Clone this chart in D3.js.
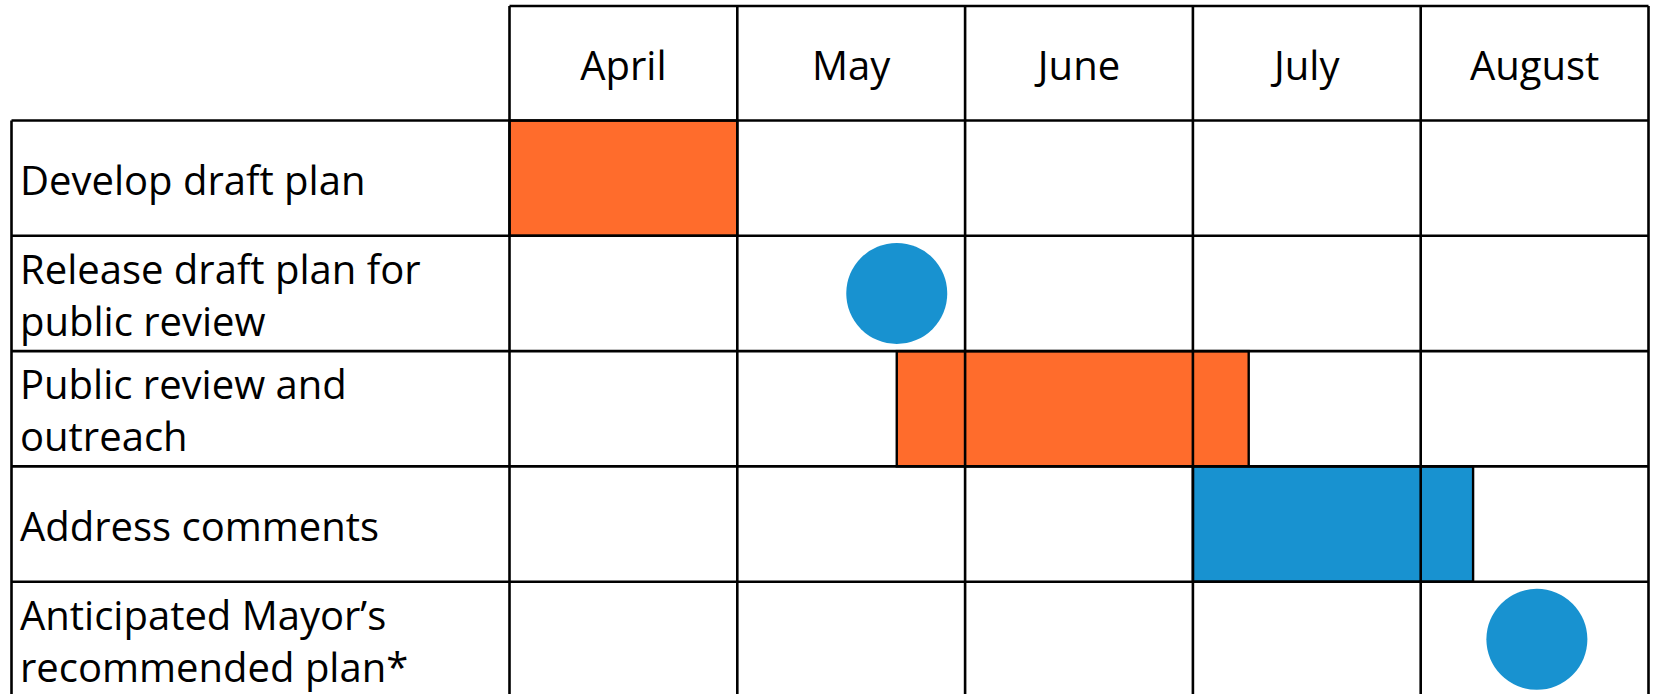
<!DOCTYPE html>
<html>
<head>
<meta charset="utf-8">
<script src="https://d3js.org/d3.v7.min.js"></script>
<style>
  body { margin: 0; background: #fff; }
  text { font-family: "Open Sans", "Noto Sans", sans-serif; fill: #000; }
</style>
</head>
<body>
<div class="timeline-container"></div>
<script>
// months across the top, tasks down the left side
const months = ["April", "May", "June", "July", "August"];
const tasks = [
  ["Develop draft plan"],
  ["Release draft plan for", "public review"],
  ["Public review and", "outreach"],
  ["Address comments"],
  ["Anticipated Mayor\u2019s", "recommended plan*"]
];

// bars: row index, start / end counted in months from the 1st of April
const barTask = [0, 2, 3];
const barStart = [0, 1.70, 3.0];
const barEnd = [1, 3.245, 4.23];
const barColor = ["#ff6c2c", "#ff6c2c", "#1892d0"];

// milestones drawn as circles
const dotTask = [1, 4];
const dotAt = [1.70, 4.51];
const dotColor = ["#1892d0", "#1892d0"];

const width = 1654, height = 694;
const gridLeft = 11.5, gridTop = 6, headerBottom = 120.5, rowHeight = 115.3;
const fontSize = 40, lineGap = 52;

const svg = d3.select(".timeline-container")
  .append("svg")
  .attr("width", width)
  .attr("height", height);

const xScale = d3.scaleLinear()
  .domain([0, months.length])
  .range([509.5, 1648.5]);

const yScale = d3.scaleBand()
  .domain(d3.range(tasks.length))
  .range([headerBottom, headerBottom + rowHeight * tasks.length]);

const bars = barTask.map((t, i) => ({task: t, start: barStart[i], end: barEnd[i], color: barColor[i]}));
const dots = dotTask.map((t, i) => ({task: t, at: dotAt[i], color: dotColor[i]}));

// bars first, the grid goes on top of them
svg.append("g").selectAll("rect")
  .data(bars)
  .join("rect")
  .attr("x", d => xScale(d.start))
  .attr("y", d => yScale(d.task))
  .attr("width", d => xScale(d.end) - xScale(d.start))
  .attr("height", yScale.bandwidth())
  .attr("fill", d => d.color)
  .attr("stroke", "#000")
  .attr("stroke-width", 2.4);

svg.append("g").selectAll("circle")
  .data(dots)
  .join("circle")
  .attr("cx", d => xScale(d.at))
  .attr("cy", d => yScale(d.task) + yScale.bandwidth() / 2)
  .attr("r", 50.5)
  .attr("fill", d => d.color);

// grid
const grid = svg.append("g")
  .attr("stroke", "#000")
  .attr("stroke-width", 2.6);

const bottom = yScale.range()[1];

grid.append("line")
  .attr("x1", xScale(0)).attr("x2", xScale(months.length))
  .attr("y1", gridTop).attr("y2", gridTop);

grid.selectAll(".hline")
  .data(d3.range(tasks.length + 1))
  .join("line")
  .attr("class", "hline")
  .attr("x1", gridLeft)
  .attr("x2", xScale(months.length))
  .attr("y1", d => d < tasks.length ? yScale(d) : bottom)
  .attr("y2", d => d < tasks.length ? yScale(d) : bottom);

grid.append("line")
  .attr("x1", gridLeft).attr("x2", gridLeft)
  .attr("y1", headerBottom).attr("y2", bottom);

grid.selectAll(".vline")
  .data(d3.range(months.length + 1))
  .join("line")
  .attr("class", "vline")
  .attr("x1", d => xScale(d))
  .attr("x2", d => xScale(d))
  .attr("y1", gridTop)
  .attr("y2", bottom);

// month headers
svg.append("g").selectAll("text")
  .data(months)
  .join("text")
  .attr("x", (d, i) => (xScale(i) + xScale(i + 1)) / 2)
  .attr("y", 80)
  .attr("text-anchor", "middle")
  .attr("font-size", fontSize)
  .text(d => d);

// task labels, one tspan per line
svg.append("g").selectAll("text")
  .data(tasks)
  .join("text")
  .attr("font-size", fontSize)
  .each(function(lines, i) {
    const mid = yScale(i) + yScale.bandwidth() / 2 + 16.5;
    d3.select(this).selectAll("tspan")
      .data(lines)
      .join("tspan")
      .attr("x", 20)
      .attr("y", (l, j) => mid + (j - (lines.length - 1) / 2) * lineGap)
      .text(l => l);
  });
</script>
</body>
</html>
